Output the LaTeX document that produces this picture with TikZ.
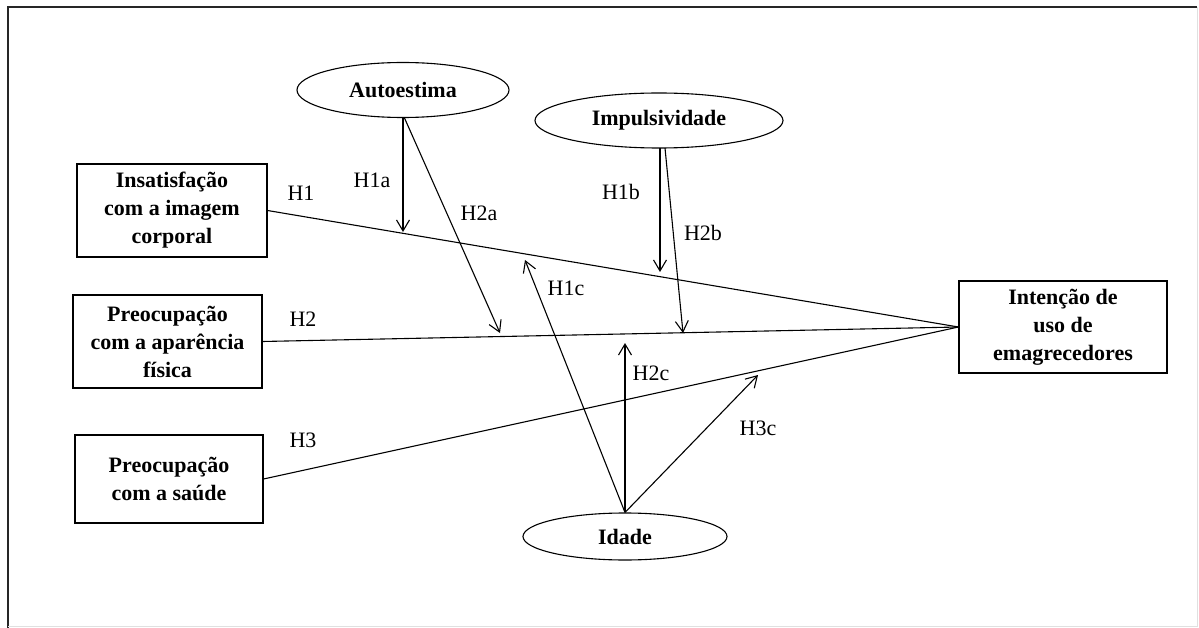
\documentclass[tikz,border=0pt]{standalone}
\usepackage{fontspec}
\setmainfont{Liberation Serif}
\usetikzlibrary{arrows.meta,shapes.geometric}
\begin{document}
\begin{tikzpicture}[x=1pt,y=-1pt,
  every node/.style={font=\fontsize{22}{28}\selectfont},
  box/.style={draw, line width=1.1pt, rectangle, align=center, font=\fontsize{22}{28}\selectfont\bfseries, inner sep=0pt},
  oval/.style={draw, line width=1.1pt, ellipse, inner sep=0pt, font=\fontsize{22}{28}\selectfont\bfseries},
  lbl/.style={inner sep=0pt, anchor=center},
  link/.style={line width=1.1pt},
  arr/.style={line width=1.1pt, -{Straight Barb[length=11pt,width=13pt,line width=1.1pt]}}]
\useasboundingbox (0,0) rectangle (1199,628);
% frame
\draw[line width=1.8pt, black!85] (8,628) -- (8,7) -- (1197,7);
\draw[line width=0.6pt, black!12] (1197,7) -- (1197,626) -- (8,626);
% boxes
\node[box, minimum width=190pt, minimum height=93pt] (b1) at (172,210.5) {Insatisfação\\com a imagem\\corporal};
\node[box, minimum width=189pt, minimum height=93pt] (b2) at (167.5,341.5) {Preocupação\\com a aparência\\física};
\node[box, minimum width=188pt, minimum height=88pt] (b3) at (169,479) {Preocupação\\com a saúde};
\node[box, minimum width=208pt, minimum height=92pt] (iu) at (1063,327) {Intenção de\\uso de\\emagrecedores};
% ellipses
\node[oval, minimum width=212pt, minimum height=55pt] (au) at (403,90) {Autoestima};
\node[oval, minimum width=248pt, minimum height=55pt] (im) at (659,120.5) {Impulsividade};
\node[oval, minimum width=204pt, minimum height=47pt] (id) at (625,536.5) {Idade};
% main paths
\draw[link] (b1.east) -- (iu.west);
\draw[link] (b2.east) -- (iu.west);
\draw[link] (b3.east) -- (iu.west);
% moderation tips
\coordinate (t1a) at (403,232);
\coordinate (t2a) at (500,333);
\coordinate (t1b) at (660,272);
\coordinate (t2b) at (683,333);
\coordinate (t1c) at (525,260);
\coordinate (t2c) at (625,343);
\coordinate (t3c) at (758,375);
\coordinate (s1b) at (660,148);
\coordinate (s2b) at (665,148);
\draw[arr] (au.south) -- (t1a);
\draw[arr] ([xshift=1.5pt]au.south) -- (t2a);
\draw[arr] (s1b) -- (t1b);
\draw[arr] (s2b) -- (t2b);
\draw[arr] (id.north) -- (t1c);
\draw[arr] (id.north) -- (t2c);
\draw[arr] (id.north) -- (t3c);
% labels
\node[lbl] (h1) at (301,193) {H1};
\node[lbl] (h2) at (303,319) {H2};
\node[lbl] (h3) at (303,440) {H3};
\node[lbl] (h1a) at (372,180) {H1a};
\node[lbl] (h2a) at (479,213) {H2a};
\node[lbl] (h1b) at (621,192) {H1b};
\node[lbl] (h2b) at (703,233) {H2b};
\node[lbl] (h1c) at (566,288) {H1c};
\node[lbl] (h2c) at (651,373) {H2c};
\node[lbl] (h3c) at (758,428) {H3c};
\end{tikzpicture}
\end{document}
